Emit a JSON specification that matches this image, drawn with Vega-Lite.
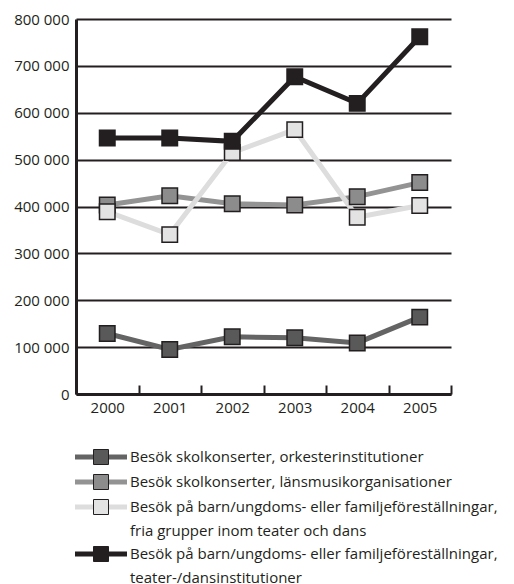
{
  "$schema": "https://vega.github.io/schema/vega-lite/v6.json",
  "width": 375,
  "height": 375,
  "autosize": "none",
  "padding": {"left": 76, "top": 19, "right": 63, "bottom": 190},
  "config": {
    "view": {"stroke": null},
    "font": "Open Sans",
    "style": {"guide-label": {"lineHeight": 24}}
  },
  "data": {
    "values": [
      {"series": "Besök skolkonserter, orkesterinstitutioner", "year": "2000", "visits": 129000},
      {"series": "Besök skolkonserter, orkesterinstitutioner", "year": "2001", "visits": 95000},
      {"series": "Besök skolkonserter, orkesterinstitutioner", "year": "2002", "visits": 122000},
      {"series": "Besök skolkonserter, orkesterinstitutioner", "year": "2003", "visits": 120000},
      {"series": "Besök skolkonserter, orkesterinstitutioner", "year": "2004", "visits": 109000},
      {"series": "Besök skolkonserter, orkesterinstitutioner", "year": "2005", "visits": 164000},
      {"series": "Besök skolkonserter, länsmusikorganisationer", "year": "2000", "visits": 403000},
      {"series": "Besök skolkonserter, länsmusikorganisationer", "year": "2001", "visits": 423000},
      {"series": "Besök skolkonserter, länsmusikorganisationer", "year": "2002", "visits": 406000},
      {"series": "Besök skolkonserter, länsmusikorganisationer", "year": "2003", "visits": 403000},
      {"series": "Besök skolkonserter, länsmusikorganisationer", "year": "2004", "visits": 421000},
      {"series": "Besök skolkonserter, länsmusikorganisationer", "year": "2005", "visits": 451000},
      {"series": "Besök på barn/ungdoms- eller familjeföreställningar, fria grupper inom teater och dans", "year": "2000", "visits": 389000},
      {"series": "Besök på barn/ungdoms- eller familjeföreställningar, fria grupper inom teater och dans", "year": "2001", "visits": 340000},
      {"series": "Besök på barn/ungdoms- eller familjeföreställningar, fria grupper inom teater och dans", "year": "2002", "visits": 515000},
      {"series": "Besök på barn/ungdoms- eller familjeföreställningar, fria grupper inom teater och dans", "year": "2003", "visits": 564000},
      {"series": "Besök på barn/ungdoms- eller familjeföreställningar, fria grupper inom teater och dans", "year": "2004", "visits": 377000},
      {"series": "Besök på barn/ungdoms- eller familjeföreställningar, fria grupper inom teater och dans", "year": "2005", "visits": 402000},
      {"series": "Besök på barn/ungdoms- eller familjeföreställningar, teater-/dansinstitutioner", "year": "2000", "visits": 546000},
      {"series": "Besök på barn/ungdoms- eller familjeföreställningar, teater-/dansinstitutioner", "year": "2001", "visits": 546000},
      {"series": "Besök på barn/ungdoms- eller familjeföreställningar, teater-/dansinstitutioner", "year": "2002", "visits": 539000},
      {"series": "Besök på barn/ungdoms- eller familjeföreställningar, teater-/dansinstitutioner", "year": "2003", "visits": 677000},
      {"series": "Besök på barn/ungdoms- eller familjeföreställningar, teater-/dansinstitutioner", "year": "2004", "visits": 620000},
      {"series": "Besök på barn/ungdoms- eller familjeföreställningar, teater-/dansinstitutioner", "year": "2005", "visits": 762000}
    ]
  },
  "layer": [
    {
      "mark": {"type": "line", "strokeWidth": 5},
      "encoding": {
        "x": {
          "field": "year", "type": "ordinal",
          "scale": {"type": "band", "paddingInner": 0, "paddingOuter": 0},
          "bandPosition": 0.5,
          "axis": {
            "title": null, "labelAngle": 0, "domainColor": "#231f20", "domainWidth": 3,
            "tickColor": "#231f20", "tickWidth": 2, "tickSize": -9, "tickBand": "extent",
            "labelFontSize": 15, "labelColor": "#231f20", "labelPadding": 15
          }
        },
        "y": {
          "field": "visits", "type": "quantitative",
          "scale": {"domain": [0, 800000], "nice": false},
          "axis": {
            "title": null,
            "values": [0, 100000, 200000, 300000, 400000, 500000, 600000, 700000, 800000],
            "labelExpr": "replace(format(datum.value, ','), ',', ' ')",
            "grid": true, "gridColor": "#231f20", "gridWidth": 2, "gridOpacity": 1,
            "ticks": false, "domainColor": "#231f20", "domainWidth": 3,
            "labelFontSize": 15, "labelColor": "#231f20", "labelPadding": 7
          }
        },
        "stroke": {
          "field": "series", "type": "nominal",
          "scale": {
            "domain": [
              "Besök skolkonserter, orkesterinstitutioner",
              "Besök skolkonserter, länsmusikorganisationer",
              "Besök på barn/ungdoms- eller familjeföreställningar, fria grupper inom teater och dans",
              "Besök på barn/ungdoms- eller familjeföreställningar, teater-/dansinstitutioner"
            ],
            "range": ["#646464", "#939393", "#dddddd", "#231f20"]
          },
          "legend": {
            "title": null, "orient": "none", "legendX": 0, "legendY": 428, "padding": 0,
            "symbolType": "M-3.4667,0H3.4667", "symbolSize": 225, "symbolStrokeWidth": 5,
            "symbolFillColor": "transparent", "symbolOffset": 15,
            "labelFontSize": 15, "labelColor": "#231f20", "labelOffset": 19, "labelLimit": 500,
            "rowPadding": 5,
            "labelExpr": "split(replace(datum.label, 'ar, ', 'ar,|'), '|')"
          }
        }
      }
    },
    {
      "mark": {"type": "point", "shape": "square", "filled": true, "size": 240, "stroke": "#231f20", "strokeWidth": 1.5, "opacity": 1},
      "encoding": {
        "x": {"field": "year", "type": "ordinal", "bandPosition": 0.5},
        "y": {"field": "visits", "type": "quantitative"},
        "fill": {
          "field": "series", "type": "nominal", "sort": null,
          "scale": {"range": ["#595959", "#8c8c8c", "#e3e3e3", "#231f20"]},
          "legend": {
            "title": null, "orient": "none", "legendX": 0, "legendY": 430, "padding": 0,
            "symbolType": "square", "symbolSize": 225,
            "symbolStrokeColor": "#231f20", "symbolStrokeWidth": 1, "symbolOpacity": 1,
            "symbolOffset": 17,
            "labelFontSize": 15, "labelColor": "transparent", "labelOffset": 19, "labelLimit": 500,
            "rowPadding": 5,
            "labelExpr": "split(replace(datum.label, 'ar, ', 'ar,|'), '|')"
          }
        }
      }
    }
  ]
}
